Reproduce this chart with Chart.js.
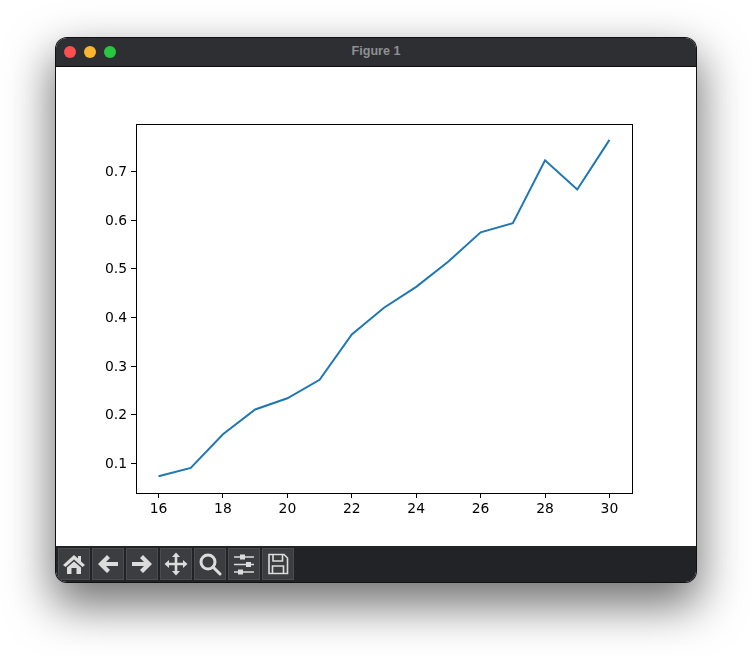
<!DOCTYPE html>
<html>
<head>
<meta charset="utf-8">
<script src="https://cdn.jsdelivr.net/npm/chart.js@4"></script>
<style>
html, body { margin: 0; padding: 0; background: #fff; width: 752px; height: 656px; overflow: hidden; }
#win { position: absolute; left: 56px; top: 38px; width: 640px; height: 544px; border-radius: 11px;
  background: #fff; box-shadow: 0 0 0 1px #111, 0 20px 46px 4px rgba(0,0,0,.55); overflow: hidden; }
#bar { position: absolute; left: 0; top: 0; width: 640px; height: 28px; background: #2e2f32; border-bottom: 1px solid #0c0c0c;
  text-align: center; font: bold 12.6px/27px "Liberation Sans", sans-serif; color: #8f9093; }
.dot { position: absolute; top: 8px; width: 12px; height: 12px; border-radius: 50%; }
#plot { position: absolute; left: 0; top: 29px; width: 640px; height: 479px; }
#tools { position: absolute; left: 0; top: 508px; width: 640px; height: 36px; background: #222327; }
.btn { position: absolute; top: 2px; width: 30px; height: 30px; background: #3c3d40; border: 1px solid #4b4c4f; }
.btn svg { position: absolute; left: 3px; top: 3px; width: 24px; height: 24px; fill: #dcdcdc; stroke: #dcdcdc; }
</style>
</head>
<body>
<div id="win">
  <div id="bar">Figure 1
    <div class="dot" style="left:8px;background:#fc4f4f"></div>
    <div class="dot" style="left:28px;background:#fdb42e"></div>
    <div class="dot" style="left:48px;background:#28c73f"></div>
  </div>
  <div id="plot"><canvas id="figChart" width="640" height="479"></canvas></div>
  <div id="tools">
    <div class="btn" style="left:2px"><svg viewBox="0 0 24 24" stroke-width="0"><path d="M12 3 L1 13 L3.5 15 L12 7.5 L20.5 15 L23 13 L19 9.4 V4 H16 V6.6Z"/><path d="M5 15.5 L12 9.5 L19 15.5 V22 H14.5 V16 H9.5 V22 H5Z"/></svg></div>
    <div class="btn" style="left:36px"><svg viewBox="0 0 24 24" fill="none" stroke-width="0"><path d="M2 12 L11 3 L14 6 L10 10 H22 V14 H10 L14 18 L11 21Z"/></svg></div>
    <div class="btn" style="left:70px"><svg viewBox="0 0 24 24" stroke-width="0"><path d="M22 12 L13 3 L10 6 L14 10 H2 V14 H14 L10 18 L13 21Z"/></svg></div>
    <div class="btn" style="left:104px"><svg viewBox="0 0 24 24" stroke-width="0"><path d="M12 0.5 L16 5 H13.3 V10.7 H19 V8 L23.5 12 L19 16 V13.3 H13.3 V19 H16 L12 23.5 L8 19 H10.7 V13.3 H5 V16 L0.5 12 L5 8 V10.7 H10.7 V5 H8Z"/></svg></div>
    <div class="btn" style="left:138px"><svg viewBox="0 0 24 24" style="fill:none" stroke-width="3"><circle cx="10" cy="10" r="7"/><path d="M15 15 L22 22" stroke-linecap="round"/></svg></div>
    <div class="btn" style="left:172px"><svg viewBox="0 0 24 24" stroke-width="1.6"><path d="M2 5 H22 M2 12.5 H22 M2 20 H22"/><rect x="8" y="2.5" width="5" height="5" stroke-width="0"/><rect x="14" y="10" width="5" height="5" stroke-width="0"/><rect x="6" y="17.5" width="5" height="5" stroke-width="0"/></svg></div>
    <div class="btn" style="left:206px"><svg viewBox="0 0 24 24" style="fill:none" stroke-width="1.6"><path d="M3 2.5 H18 L21.5 6 V21.5 H3Z"/><path d="M7 2.5 V9 H16.5 V2.5 M6.5 21.5 V14 H17.5 V21.5"/></svg></div>
  </div>
</div>
<script>
const sizes = [16, 17, 18, 19, 20, 21, 22, 23, 24, 25, 26, 27, 28, 29, 30];
const scores = [0.074, 0.091, 0.160, 0.211, 0.234, 0.272, 0.365, 0.420, 0.463, 0.515, 0.575, 0.594, 0.723, 0.663, 0.765];
const xTicks = [16, 18, 20, 22, 24, 26, 28, 30];
const yTicks = [0.1, 0.2, 0.3, 0.4, 0.5, 0.6, 0.7];

// рамка вокруг области графика
const frame = {
    id: 'frame',
    afterDraw(chart) {
        const a = chart.chartArea, c = chart.ctx;
        c.save();
        c.strokeStyle = '#000';
        c.lineWidth = 1;
        c.strokeRect(Math.round(a.left) + 0.5, Math.round(a.top) + 0.5, Math.round(a.right - a.left), Math.round(a.bottom - a.top));
        c.restore();
    }
};

const tickFont = { family: 'DejaVu Sans', size: 13.9 };

new Chart(document.getElementById('figChart').getContext('2d'), {
    type: 'line',
    data: {
        datasets: [{
            data: sizes.map((s, i) => ({ x: s, y: scores[i] })),
            borderColor: '#1f77b4',
            borderWidth: 2,
            pointRadius: 0,
            tension: 0
        }]
    },
    options: {
        responsive: false,
        animation: false,
        layout: { padding: { top: 57, right: 64, left: 0, bottom: 0 } },
        plugins: { legend: { display: false }, tooltip: { enabled: false } },
        scales: {
            x: {
                type: 'linear',
                min: 15.3,
                max: 30.7,
                afterBuildTicks: axis => { axis.ticks = xTicks.map(v => ({ value: v })); },
                afterFit: axis => { axis.height = 53; },
                border: { display: false },
                grid: { drawOnChartArea: false, color: '#000', tickLength: 5 },
                ticks: { color: '#000', font: tickFont, padding: 3, maxRotation: 0, autoSkip: false }
            },
            y: {
                min: 0.0394,
                max: 0.7976,
                afterBuildTicks: axis => { axis.ticks = yTicks.map(v => ({ value: v })); },
                afterFit: axis => { axis.width = 80; },
                border: { display: false },
                grid: { drawOnChartArea: false, color: '#000', tickLength: 5 },
                ticks: { color: '#000', font: tickFont, padding: 4, labelOffset: 1, autoSkip: false, callback: v => v.toFixed(1) }
            }
        }
    },
    plugins: [frame]
});
</script>
</body>
</html>
